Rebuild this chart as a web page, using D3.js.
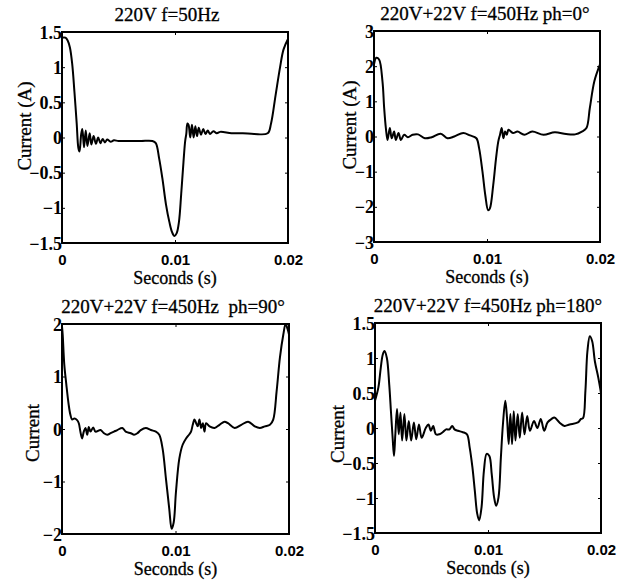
<!DOCTYPE html>
<html>
<head>
<meta charset="utf-8">
<script src="https://cdn.jsdelivr.net/npm/d3@7"></script>
<style>
  body { margin: 0; background: #fff; }
  svg text { fill: #000; }
</style>
</head>
<body>
<svg id="svg" width="626" height="582"></svg>
<script>
// time in ms, current in A
const wave50 = [
  [0, 1.42], [0.3, 1.42], [0.5, 1.38], [0.7, 1.28], [0.9, 1.05], [1.1, 0.65], [1.3, 0.2],
  [1.45, -0.15], [1.55, -0.2], [1.7, 0.05], [1.8, 0.12], [1.95, -0.14], [2.1, 0.1],
  [2.25, -0.12], [2.45, 0.06], [2.6, -0.1], [2.8, 0.02], [3.0, -0.09], [3.2, 0.0],
  [3.4, -0.08], [3.6, -0.02], [3.8, -0.07], [4.0, -0.03], [4.3, -0.06], [4.6, -0.04],
  [5.0, -0.05], [6.0, -0.05], [7.0, -0.05], [8.0, -0.05], [8.3, -0.08], [8.6, -0.3],
  [8.9, -0.6], [9.2, -0.95], [9.5, -1.2], [9.75, -1.35], [9.95, -1.4], [10.15, -1.36],
  [10.35, -1.2], [10.55, -0.8], [10.75, -0.35], [10.9, -0.05], [11.0, 0.05], [11.1, 0.2],
  [11.2, 0.18], [11.35, 0.0], [11.5, 0.18], [11.65, 0.0], [11.8, 0.16], [11.95, 0.02],
  [12.1, 0.14], [12.3, 0.04], [12.5, 0.12], [12.7, 0.05], [12.9, 0.1], [13.1, 0.05],
  [13.4, 0.09], [13.7, 0.06], [14.0, 0.08], [15.0, 0.06], [16.0, 0.06], [17.0, 0.05],
  [18.2, 0.06], [18.5, 0.2], [18.9, 0.6], [19.3, 1.0], [19.6, 1.25], [20, 1.4]
];

const wavePh0 = [
  [0, 2.05], [0.2, 2.24], [0.45, 2.19], [0.75, 1.57], [0.9, 0.81], [1.05, 0.24],
  [1.2, -0.1], [1.4, 0.24], [1.57, -0.05], [1.78, 0.14], [1.93, -0.1], [2.17, 0.1],
  [2.38, -0.1], [2.67, 0.05], [3.0, -0.02], [3.42, 0.05], [3.9, 0.06], [4.5, -0.05],
  [5.1, -0.02], [5.9, 0.08], [6.5, -0.05], [7.1, 0.0], [7.9, 0.1], [8.5, 0.03],
  [9.06, -0.05], [9.3, -0.33], [9.6, -1.0], [9.85, -1.67], [10.1, -2.1], [10.25, -2.05],
  [10.55, -1.38], [10.8, -0.62], [11.0, -0.14], [11.15, 0.05], [11.3, 0.24], [11.45, -0.05],
  [11.6, 0.14], [11.75, 0.05], [11.9, 0.19], [12.3, 0.1], [12.7, 0.14], [13.3, 0.05],
  [14.0, 0.14], [15.0, 0.05], [16.0, 0.12], [17.0, 0.07], [17.8, 0.06], [18.4, 0.14],
  [18.8, 0.24], [19.1, 0.81], [19.5, 1.57], [20, 2.05]
];

const wavePh90 = [
  [0, 1.95], [0.06, 1.8], [0.2, 1.23], [0.38, 0.85], [0.59, 0.46], [0.74, 0.27],
  [0.89, 0.18], [1.09, 0.2], [1.33, 0.17], [1.48, 0.11], [1.62, -0.05], [1.77, -0.18],
  [1.92, -0.05], [2.07, 0.02], [2.22, -0.11], [2.36, 0.04], [2.51, -0.05], [2.75, 0.03],
  [2.95, -0.05], [3.4, -0.02], [3.69, -0.08], [3.99, -0.11], [4.28, -0.08], [4.58, -0.05],
  [4.87, -0.02], [5.32, 0.02], [5.61, -0.05], [6.06, -0.08], [6.35, -0.11], [6.65, -0.08],
  [6.94, -0.02], [7.39, 0.02], [7.83, -0.02], [8.27, -0.05], [8.57, -0.11], [8.86, -0.37],
  [9.16, -0.95], [9.45, -1.52], [9.66, -1.9], [9.84, -1.78], [10.04, -1.2], [10.34, -0.56],
  [10.63, -0.3], [10.93, -0.18], [11.22, -0.1], [11.37, -0.05], [11.52, 0.08], [11.67, 0.18],
  [11.82, 0.11], [11.96, 0.05], [12.11, 0.18], [12.26, 0.02], [12.41, 0.11], [12.55, -0.05],
  [12.7, 0.11], [13.0, 0.05], [13.44, 0.02], [13.88, 0.08], [14.33, 0.14], [14.62, 0.11],
  [15.21, 0.02], [15.8, 0.08], [16.4, 0.14], [16.99, 0.05], [17.43, 0.02], [17.87, 0.05],
  [18.32, 0.08], [18.61, 0.18], [18.91, 0.72], [19.2, 1.36], [19.5, 1.8], [19.7, 2.0],
  [19.88, 1.9], [20, 1.8]
];

const wavePh180 = [
  [0, 0.39], [0.3, 0.58], [0.51, 0.86], [0.69, 1.05], [0.84, 1.1], [1.05, 1.0],
  [1.26, 0.62], [1.41, 0.24], [1.56, -0.14], [1.68, -0.4], [1.8, -0.09], [1.95, 0.27],
  [2.1, -0.09], [2.25, 0.22], [2.4, -0.18], [2.6, 0.2], [2.78, -0.18], [2.99, 0.1],
  [3.2, -0.18], [3.44, 0.08], [3.65, -0.16], [3.89, 0.05], [4.13, -0.14], [4.49, 0.0],
  [4.73, 0.05], [4.94, -0.04], [5.15, 0.03], [5.39, -0.09], [5.69, -0.09], [5.99, -0.06],
  [6.29, -0.02], [6.59, -0.02], [6.83, 0.03], [7.04, -0.02], [7.34, -0.04], [7.78, -0.06],
  [8.14, -0.09], [8.38, -0.28], [8.62, -0.56], [8.83, -0.89], [9.04, -1.22], [9.22, -1.32],
  [9.43, -1.13], [9.64, -0.61], [9.88, -0.37], [10.12, -0.4], [10.33, -0.66], [10.54, -0.99],
  [10.72, -1.11], [10.93, -0.99], [11.14, -0.42], [11.32, 0.05], [11.53, 0.39], [11.68, 0.15],
  [11.83, -0.23], [11.98, 0.2], [12.13, -0.23], [12.28, 0.24], [12.43, -0.18], [12.63, 0.2],
  [12.81, -0.14], [13.02, 0.22], [13.23, -0.09], [13.47, 0.17], [13.71, -0.04], [14.07, 0.1],
  [14.37, 0.0], [14.67, 0.13], [14.97, -0.04], [15.27, 0.08], [15.63, 0.13], [15.87, 0.15],
  [16.32, 0.08], [16.77, 0.03], [17.22, 0.05], [17.96, 0.08], [18.23, 0.13], [18.41, 0.14],
  [18.62, 0.53], [18.8, 1.1], [19.01, 1.31], [19.22, 1.24], [19.46, 0.95], [19.76, 0.72],
  [20, 0.5]
];

const xTicks = [0, 10, 20];
const xTickLabels = ["0", "0.01", "0.02"];
const ticks15 = [-1.5, -1, -0.5, 0, 0.5, 1, 1.5];
const ticks3 = [-3, -2, -1, 0, 1, 2, 3];
const ticks2 = [-2, -1, 0, 1, 2];

const titles = [
  "220V f=50Hz",
  "220V+22V f=450Hz ph=0°",
  "220V+22V f=450Hz  ph=90°",
  "220V+22V f=450Hz ph=180°"
];
const yLabels = ["Current (A)", "Current (A)", "Current", "Current"];

const panels = [
  { data: wave50, ticks: ticks15, box: [62, 32, 288, 243], titleX: 167, labelX: 31, labelY: 126 },
  { data: wavePh0, ticks: ticks3, box: [374, 31, 600, 242], titleX: 485, labelX: 356, labelY: 125 },
  { data: wavePh90, ticks: ticks2, box: [62, 324, 289, 534], titleX: 173, labelX: 39, labelY: 433 },
  { data: wavePh180, ticks: ticks15, box: [375, 323, 601, 533], titleX: 488, labelX: 344, labelY: 434 }
];

const svg = d3.select("#svg");
const serif = "'Liberation Serif', 'Times New Roman', serif";
const sans = "'Liberation Sans', Arial, sans-serif";

panels.forEach((p, i) => {
  const [x0, y0, x1, y1] = p.box;
  const yMax = d3.max(p.ticks), yMin = d3.min(p.ticks);
  const x = d3.scaleLinear().domain([0, 20]).range([x0, x1]);
  const y = d3.scaleLinear().domain([yMin, yMax]).range([y1, y0]);
  const g = svg.append("g");

  // inward ticks on all four sides
  const left = g.append("g").attr("transform", `translate(${x0},0)`)
    .call(d3.axisLeft(y).tickValues(p.ticks).tickSize(-3).tickPadding(0)
      .tickFormat(d3.format("")));
  left.selectAll("text")
    .attr("font-family", serif).attr("font-size", 18).attr("font-weight", "bold")
    .attr("dy", "0.34em");
  g.append("g").attr("transform", `translate(${x1},0)`)
    .call(d3.axisRight(y).tickValues(p.ticks).tickSize(-3).tickFormat(""));
  const bottom = g.append("g").attr("transform", `translate(0,${y1})`)
    .call(d3.axisBottom(x).tickValues(xTicks).tickSize(-3).tickPadding(11)
      .tickFormat((d, k) => xTickLabels[k]));
  bottom.selectAll("text")
    .attr("font-family", sans).attr("font-size", 15).attr("font-weight", "bold");
  g.append("g").attr("transform", `translate(0,${y0})`)
    .call(d3.axisTop(x).tickValues(xTicks).tickSize(-3).tickFormat(""));
  g.selectAll(".domain").remove();
  g.selectAll(".tick line").attr("stroke", "#000").attr("stroke-width", 1);

  g.append("rect")
    .attr("x", x0).attr("y", y0)
    .attr("width", x1 - x0).attr("height", y1 - y0)
    .attr("fill", "none").attr("stroke", "#000").attr("stroke-width", 2);

  g.append("path")
    .datum(p.data)
    .attr("fill", "none")
    .attr("stroke", "#000")
    .attr("stroke-width", 2)
    .attr("stroke-linejoin", "round")
    .attr("d", d3.line().curve(d3.curveCatmullRom.alpha(0.5))
      .x(d => x(d[0])).y(d => y(d[1])));

  g.append("text")
    .attr("x", p.titleX).attr("y", y0 - 11)
    .attr("text-anchor", "middle")
    .attr("font-family", serif).attr("font-size", 19)
    .attr("stroke", "#000").attr("stroke-width", 0.3)
    .style("white-space", "pre")
    .text(titles[i]);

  g.append("text")
    .attr("x", (x0 + x1) / 2).attr("y", y1 + 41)
    .attr("text-anchor", "middle")
    .attr("font-family", serif).attr("font-size", 18)
    .attr("stroke", "#000").attr("stroke-width", 0.3)
    .text("Seconds (s)");

  g.append("text")
    .attr("transform", `translate(${p.labelX},${p.labelY}) rotate(-90)`)
    .attr("text-anchor", "middle")
    .attr("font-family", serif).attr("font-size", 19)
    .attr("stroke", "#000").attr("stroke-width", 0.3)
    .text(yLabels[i]);
});
</script>
</body>
</html>
